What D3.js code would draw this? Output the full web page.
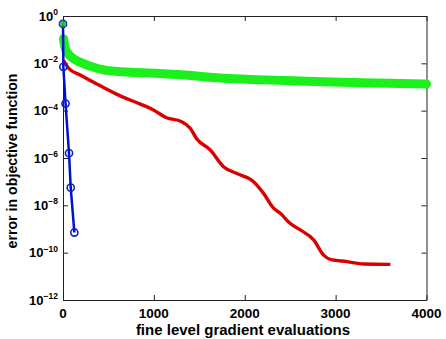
<!DOCTYPE html>
<html><head><meta charset="utf-8">
<script src="https://cdn.jsdelivr.net/npm/d3@7"></script>
<style>
html,body{margin:0;padding:0;background:#fff;}
text{font-family:"Liberation Sans",Arial,Helvetica,sans-serif;font-weight:bold;fill:#000;}
</style></head>
<body>
<svg id="c" width="446" height="339"></svg>
<script>
// ---- data ----
const blueX = [0, 4, 28, 66, 85, 125];
const blueY = [4.6e-1, 7.1e-3, 2.0e-4, 1.6e-6, 5.6e-8, 7.1e-10];

const greenX = [0, 5, 20, 50, 114, 200, 334, 463, 700, 1014, 1340, 1730, 2200, 2610, 3300, 4000];
const greenY = [4.6e-1, 1.1e-1, 5.0e-2, 2.8e-2, 1.6e-2, 1.07e-2, 6.8e-3, 5.2e-3, 4.3e-3, 3.8e-3, 3.2e-3, 2.4e-3, 2.0e-3, 1.8e-3, 1.5e-3, 1.35e-3];

const redX = [5, 60, 190, 410, 630, 850, 995, 1140, 1300, 1400, 1473, 1620, 1766, 1914, 2097, 2207, 2317, 2391, 2501, 2611, 2758, 2868, 2942, 3126, 3309, 3603];
const redY = [1.32e-2, 6.3e-3, 3.2e-3, 1.12e-3, 4.2e-4, 1.9e-4, 1.07e-4, 5.0e-5, 3.5e-5, 1.8e-5, 6.3e-6, 2.2e-6, 4.3e-7, 2.2e-7, 1.0e-7, 3.2e-8, 7.6e-9, 4.6e-9, 1.7e-9, 9.1e-10, 3.5e-10, 7.9e-11, 5.2e-11, 4.2e-11, 3.3e-11, 3.2e-11];

const xTicks = [0, 1000, 2000, 3000, 4000];
const yTickExps = [0, -2, -4, -6, -8, -10, -12];
const xLabel = "fine level gradient evaluations";
const yLabel = "error in objective function";

// ---- layout ----
const L = 63, R = 426.5, T = 16, B = 300;
const svg = d3.select("#c");
const x = d3.scaleLinear().domain([0, 4000]).range([L, R]);
const y = d3.scaleLog().domain([1e-12, 1]).range([B, T]);
const yTicks = yTickExps.map(e => Math.pow(10, e));

const toPts = (xs, ys) => xs.map((v, i) => [v, ys[i]]);
const line = d3.line().x(d => x(d[0])).y(d => y(d[1]));
const smooth = d3.line().x(d => x(d[0])).y(d => y(d[1])).curve(d3.curveMonotoneX);

// axes (MATLAB box style, ticks inside)
const tick = 5;
svg.append("g").attr("transform", `translate(0,${B})`)
  .call(d3.axisBottom(x).tickValues(xTicks).tickSize(-tick).tickSizeOuter(0).tickFormat(""));
svg.append("g").attr("transform", `translate(0,${T})`)
  .call(d3.axisTop(x).tickValues(xTicks).tickSize(-tick).tickSizeOuter(0).tickFormat(""));
svg.append("g").attr("transform", `translate(${L},0)`)
  .call(d3.axisLeft(y).tickValues(yTicks).tickSize(-tick).tickSizeOuter(0).tickFormat(""));
svg.append("g").attr("transform", `translate(${R},0)`)
  .call(d3.axisRight(y).tickValues(yTicks).tickSize(-tick).tickSizeOuter(0).tickFormat(""));
svg.selectAll(".domain").attr("stroke", "#222").attr("stroke-width", 1);
svg.selectAll(".tick line").attr("stroke", "#222");

// x tick labels
svg.append("g").selectAll("text").data(xTicks).join("text")
  .attr("x", d => x(d)).attr("y", 318).attr("text-anchor", "middle")
  .style("font-size", "13.5px").text(d => d);

// y tick labels 10^e
const yl = svg.append("g").selectAll("text").data(yTickExps).join("text")
  .attr("x", 58).attr("y", d => y(Math.pow(10, d)) + 4.5).attr("text-anchor", "end")
  .style("font-size", "13px");
yl.append("tspan").text("10");
yl.append("tspan").attr("dy", -5.5).style("font-size", "8.5px").text(d => d === 0 ? "0" : "\u2212" + (-d));

// axis labels
svg.append("text").attr("x", 243).attr("y", 335).attr("text-anchor", "middle")
  .style("font-size", "15px").text(xLabel);
svg.append("text").attr("transform", "translate(17,161) rotate(-90)").attr("text-anchor", "middle")
  .style("font-size", "14.2px").text(yLabel);

// green series (dense star markers -> thick band)
const gp = toPts(greenX, greenY);
svg.append("path").datum(gp.slice(1)).attr("d", smooth)
  .attr("fill", "none").attr("stroke", "#1cf01c").attr("stroke-width", 9)
  .attr("stroke-linejoin", "round").attr("stroke-linecap", "round");

// red series (dense plus markers)
const rp = toPts(redX, redY);
svg.append("path").datum(rp).attr("d", smooth)
  .attr("fill", "none").attr("stroke", "#e00000").attr("stroke-width", 3.4)
  .attr("stroke-linejoin", "round");
svg.append("path").datum(rp).attr("d", smooth)
  .attr("fill", "none").attr("stroke", "#b00000").attr("stroke-width", 1.4)
  .attr("stroke-dasharray", "1,2.5");

// blue series
const bp = toPts(blueX, blueY);
svg.append("path").datum(bp).attr("d", line)
  .attr("fill", "none").attr("stroke", "#0010d0").attr("stroke-width", 2.5);
svg.append("g").selectAll("circle").data(bp).join("circle")
  .attr("cx", d => x(d[0])).attr("cy", d => y(d[1])).attr("r", 3.6)
  .attr("fill", "none").attr("stroke", "#1020c0").attr("stroke-width", 1.6);

// green star marker at first point
const g0 = gp[0];
const star = svg.append("g").attr("transform", `translate(${x(g0[0])},${y(g0[1])})`);
[0, 45, 90, 135].forEach(a => star.append("line")
  .attr("x1", -3.5).attr("x2", 3.5).attr("transform", `rotate(${a})`)
  .attr("stroke", "#1cc01c").attr("stroke-width", 1.3));
</script>
</body></html>
